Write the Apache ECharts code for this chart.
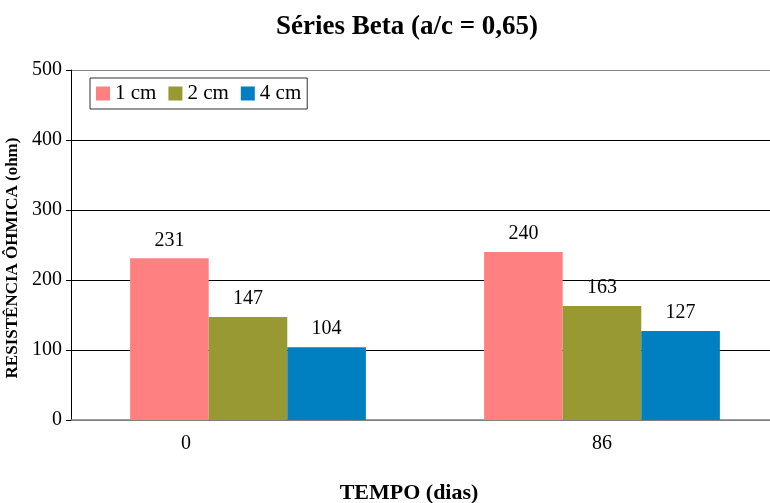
<!DOCTYPE html>
<html>
<head>
<meta charset="utf-8">
<script src="https://cdn.jsdelivr.net/npm/echarts@6/dist/echarts.min.js"></script>
<style>
  html, body { margin: 0; padding: 0; background: #fff; overflow: hidden; }
  #chart { width: 770px; height: 503px; }
</style>
</head>
<body>
<div id="chart"></div>
<script>
// Ohmic resistance of the Beta series at two ages, for three cover depths
const categories = ['0', '86'];
const seriesNames = ['1 cm', '2 cm', '4 cm'];
const values1cm = [231, 240];
const values2cm = [147, 163];
const values4cm = [104, 127];
const yTicks = [0, 100, 200, 300, 400, 500];

const colors = ['#FF8080', '#999933', '#0080C0'];
const serif = '"Liberation Serif", "Times New Roman", serif';
const dataSets = [values1cm, values2cm, values4cm];

const chart = echarts.init(document.getElementById('chart'));
chart.setOption({
  animation: false,
  backgroundColor: '#fff',
  textStyle: { fontFamily: serif, color: '#000' },
  title: {
    text: 'Séries Beta (a/c = 0,65)',
    left: 271,
    top: 9,
    textStyle: { fontFamily: serif, fontSize: 27, fontWeight: 'bold', color: '#000' }
  },
  legend: {
    data: seriesNames,
    left: 90,
    top: 78,
    orient: 'horizontal',
    itemWidth: 14,
    itemHeight: 14,
    itemGap: 12,
    padding: [5, 6, 5, 6],
    borderColor: '#333',
    borderWidth: 1,
    icon: 'rect',
    textStyle: { fontFamily: serif, fontSize: 21, color: '#000', padding: [2, 0, 0, 0] }
  },
  grid: { left: 71, width: 708, top: 70, height: 350, outerBoundsMode: 'none', containLabel: false },
  xAxis: {
    type: 'category',
    data: categories,
    name: 'TEMPO (dias)',
    nameLocation: 'middle',
    nameGap: 62,
    nameTextStyle: {
      fontFamily: serif, fontSize: 22, fontWeight: 'bold', color: '#000',
      padding: [0, 32, 0, 0]
    },
    axisLine: { lineStyle: { color: '#808080', width: 1.5 } },
    axisTick: { show: false },
    axisLabel: {
      margin: 14,
      fontFamily: serif,
      fontSize: 20,
      color: '#000',
      formatter: function (v) { return v === '0' ? '{first|' + v + '}' : v; },
      rich: { first: { fontFamily: serif, fontSize: 20, color: '#000', padding: [0, 124, 0, 0] } }
    }
  },
  yAxis: {
    type: 'value',
    min: yTicks[0],
    max: yTicks[yTicks.length - 1],
    interval: yTicks[1] - yTicks[0],
    name: 'RESISTÊNCIA ÔHMICA (ohm)',
    nameLocation: 'middle',
    nameGap: 42,
    nameTextStyle: {
      fontFamily: serif, fontSize: 17, fontWeight: 'bold', color: '#000',
      padding: [0, 26, 0, 0]
    },
    axisLine: { show: true, lineStyle: { color: '#000', width: 1 } },
    axisTick: { show: true, length: 5, lineStyle: { color: '#000' } },
    axisLabel: { margin: 9, fontFamily: serif, fontSize: 20, color: '#000' },
    splitLine: {
      show: true,
      lineStyle: { color: ['#808080', '#000', '#000', '#000', '#000', '#808080'], width: 1 }
    }
  },
  series: seriesNames.map(function (name, i) {
    return {
      name: name,
      type: 'bar',
      data: dataSets[i],
      barGap: '0%',
      barCategoryGap: '33.4%',
      itemStyle: { color: colors[i] },
      label: {
        show: true,
        position: 'top',
        distance: 8,
        fontFamily: serif,
        fontSize: 20,
        color: '#000'
      }
    };
  })
});
</script>
</body>
</html>
